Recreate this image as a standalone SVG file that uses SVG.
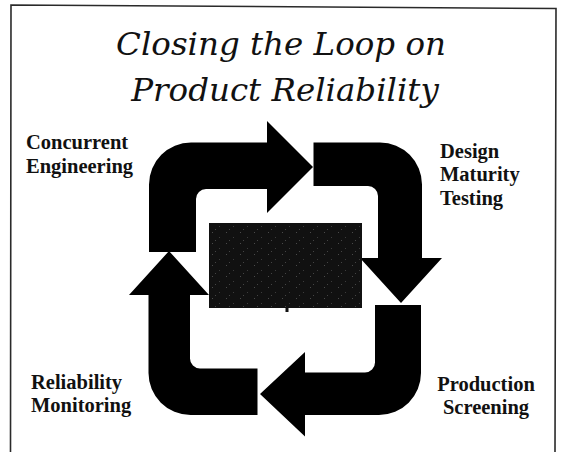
<svg xmlns="http://www.w3.org/2000/svg" width="561" height="452" viewBox="0 0 561 452">
  <style>
    .heading { font-family: "DejaVu Serif", "Liberation Serif", serif; font-style: italic; font-size: 32.5px; fill: #111; text-anchor: middle; }
    .label { font-family: "Liberation Serif", "Times New Roman", serif; font-weight: bold; font-size: 20.5px; fill: #111; }
    .arrow { fill: #000; }
    .frame { fill: none; stroke: #2a2a2a; stroke-width: 1.6; }
  </style>
  <defs>
    <!-- speckled texture for the dark centre panel -->
    <pattern id="speckle" width="14" height="11" patternUnits="userSpaceOnUse">
      <rect width="14" height="11" fill="#111"/>
      <rect x="2" y="1" width="1" height="1" fill="#4a4a4a"/>
      <rect x="9" y="6" width="1" height="1" fill="#3c3c3c"/>
      <rect x="5" y="9" width="1" height="1" fill="#444"/>
    </pattern>
  </defs>

  <rect width="561" height="452" fill="#fff"/>

  <!-- page frame (open at the bottom) -->
  <path class="frame" d="M10.5,452 L11,5 L556,8.5 L555,452"/>

  <!-- heading -->
  <g id="heading">
    <text class="heading" x="281" y="55">Closing the Loop on</text>
    <text class="heading" x="285" y="101">Product Reliability</text>
  </g>

  <!-- the four cycle arrows -->
  <g id="connectors">
    <path id="arrow-concurrent" class="arrow" d="M149,252 L149,184.5 A42,42 0 0 1 191,142.5 L267,142.5 L267,121 L313,167 L267,213 L267,189 L206,189 A10,10 0 0 0 196,199 L196,252 Z"/>
    <path id="arrow-design" class="arrow" d="M313.5,142.5 L380,142.5 A42,42 0 0 1 422,184.5 L422,258 L442,258 L401,303 L360,258 L378,258 L378,196 A10,10 0 0 0 368,186 L313.5,186 Z"/>
    <path id="arrow-production" class="arrow" d="M375,305 L421,305 L421,373 A42,42 0 0 1 379,415 L305,415 L305,436.5 L260,394 L305,352 L305,372.5 L365,372.5 A10,10 0 0 0 375,362.5 Z"/>
    <path id="arrow-monitoring" class="arrow" d="M257.5,368.5 L200,368.5 A10,10 0 0 1 190,358.5 L190,295 L209,295 L169,251 L129,295 L148.5,295 L148.5,373 A42,42 0 0 0 190.5,415 L257.5,415 Z"/>
  </g>

  <!-- dark centre panel -->
  <g id="centre-panel">
    <rect x="209" y="223" width="153" height="85" fill="url(#speckle)"/>
    <rect x="285.5" y="307" width="3" height="5" fill="#111"/>
  </g>

  <g id="node-concurrent">
    <text class="label" x="26" y="149">Concurrent</text>
    <text class="label" x="26" y="172.5">Engineering</text>
  </g>
  <g id="node-design">
    <text class="label" x="440" y="157.5">Design</text>
    <text class="label" x="440" y="181">Maturity</text>
    <text class="label" x="440" y="204.5">Testing</text>
  </g>
  <g id="node-production">
    <text class="label" x="486" y="391" text-anchor="middle">Production</text>
    <text class="label" x="486" y="414" text-anchor="middle">Screening</text>
  </g>
  <g id="node-monitoring">
    <text class="label" x="31" y="389">Reliability</text>
    <text class="label" x="31" y="412">Monitoring</text>
  </g>
</svg>
